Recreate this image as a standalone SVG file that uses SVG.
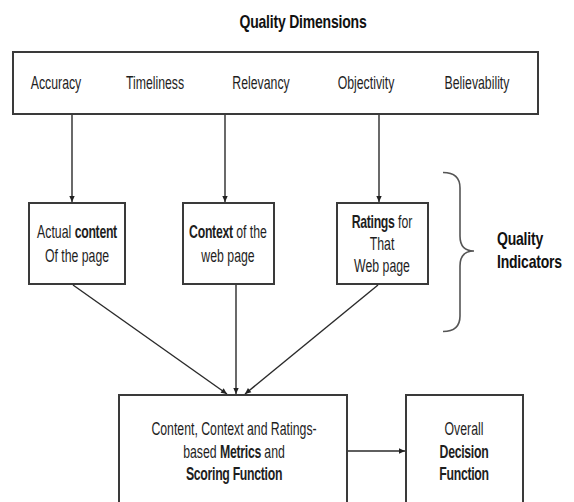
<svg xmlns="http://www.w3.org/2000/svg" width="574" height="502" viewBox="0 0 574 502">
<style>
.t{font-family:"Liberation Sans",Arial,sans-serif;font-size:12.3px;fill:#1e1e1e;text-anchor:middle}
.b{font-weight:bold;letter-spacing:-0.3px}
.h{font-family:"Liberation Sans",Arial,sans-serif;font-size:14px;font-weight:bold;fill:#111;letter-spacing:-0.2px}
.box{fill:#fff;stroke:#3a3a3a;stroke-width:2}
.ln{stroke:#2a2a2a;stroke-width:1.4;fill:none}
.br{stroke:#555;stroke-width:1.6;fill:none}
</style>
<defs>
<marker id="ah" viewBox="0 0 10 10" refX="10" refY="5" markerWidth="7" markerHeight="6" markerUnits="userSpaceOnUse" orient="auto">
<path d="M0,0.5 L10,5 L0,9.5 z" fill="#222"/>
</marker>
</defs>
<rect width="574" height="502" fill="#fff"/>

<g id="title">
<text class="h" text-anchor="middle" transform="translate(303,28) scale(1,1.3)">Quality Dimensions</text>
</g>

<g id="dimensions">
<rect class="box" x="13" y="52" width="525" height="62"/>
<text class="t" transform="translate(56,89) scale(1,1.45)">Accuracy</text>
<text class="t" transform="translate(155,89) scale(1,1.45)">Timeliness</text>
<text class="t" transform="translate(261,89) scale(1,1.45)">Relevancy</text>
<text class="t" transform="translate(366,89) scale(1,1.45)">Objectivity</text>
<text class="t" transform="translate(477,89) scale(1,1.45)">Believability</text>
</g>

<g id="content">
<rect class="box" x="29" y="203" width="96" height="81"/>
<text class="t" transform="translate(77,238) scale(1,1.45)">Actual <tspan class="b">content</tspan></text>
<text class="t" transform="translate(77,262) scale(1,1.45)">Of the page</text>
</g>

<g id="context">
<rect class="box" x="183" y="203" width="91" height="81"/>
<text class="t" transform="translate(228,238) scale(1,1.45)"><tspan class="b">Context</tspan> of the</text>
<text class="t" transform="translate(228,262) scale(1,1.45)">web page</text>
</g>

<g id="ratings">
<rect class="box" x="337" y="203" width="91" height="81"/>
<text class="t" transform="translate(382,228) scale(1,1.45)"><tspan class="b">Ratings</tspan> for</text>
<text class="t" transform="translate(382,250) scale(1,1.45)">That</text>
<text class="t" transform="translate(382,272) scale(1,1.45)">Web page</text>
</g>

<g id="quality-indicators">
<path class="br" d="M443,172.5 Q460,172.5 460,188 L460,236 Q460,251 474,251 Q460,251 460,266 L460,316 Q460,331.5 443,331.5"/>
<text class="h" transform="translate(497,245) scale(1,1.3)">Quality</text>
<text class="h" transform="translate(497,268) scale(1,1.3)">Indicators</text>
</g>

<g id="metrics">
<rect class="box" x="119" y="395" width="228" height="130"/>
<text class="t" transform="translate(234,435) scale(1,1.45)">Content, Context and Ratings-</text>
<text class="t" transform="translate(234,458) scale(1,1.45)">based <tspan class="b">Metrics</tspan> and</text>
<text class="t b" transform="translate(234,480) scale(1,1.45)">Scoring Function</text>
</g>

<g id="decision">
<rect class="box" x="406" y="395" width="117" height="130"/>
<text class="t" transform="translate(464,435) scale(1,1.45)">Overall</text>
<text class="t b" transform="translate(464,458) scale(1,1.45)">Decision</text>
<text class="t b" transform="translate(464,480) scale(1,1.45)">Function</text>
</g>

<g id="connectors">
<line class="ln" x1="72" y1="115" x2="72" y2="202" marker-end="url(#ah)"/>
<line class="ln" x1="225" y1="115" x2="225" y2="202" marker-end="url(#ah)"/>
<line class="ln" x1="379" y1="115" x2="379" y2="202" marker-end="url(#ah)"/>
<line class="ln" x1="73" y1="285" x2="227" y2="394" marker-end="url(#ah)"/>
<line class="ln" x1="236" y1="285" x2="236" y2="394" marker-end="url(#ah)"/>
<line class="ln" x1="378" y1="285" x2="245" y2="394" marker-end="url(#ah)"/>
<line class="ln" x1="348" y1="451" x2="405" y2="451" marker-end="url(#ah)"/>
</g>
</svg>
